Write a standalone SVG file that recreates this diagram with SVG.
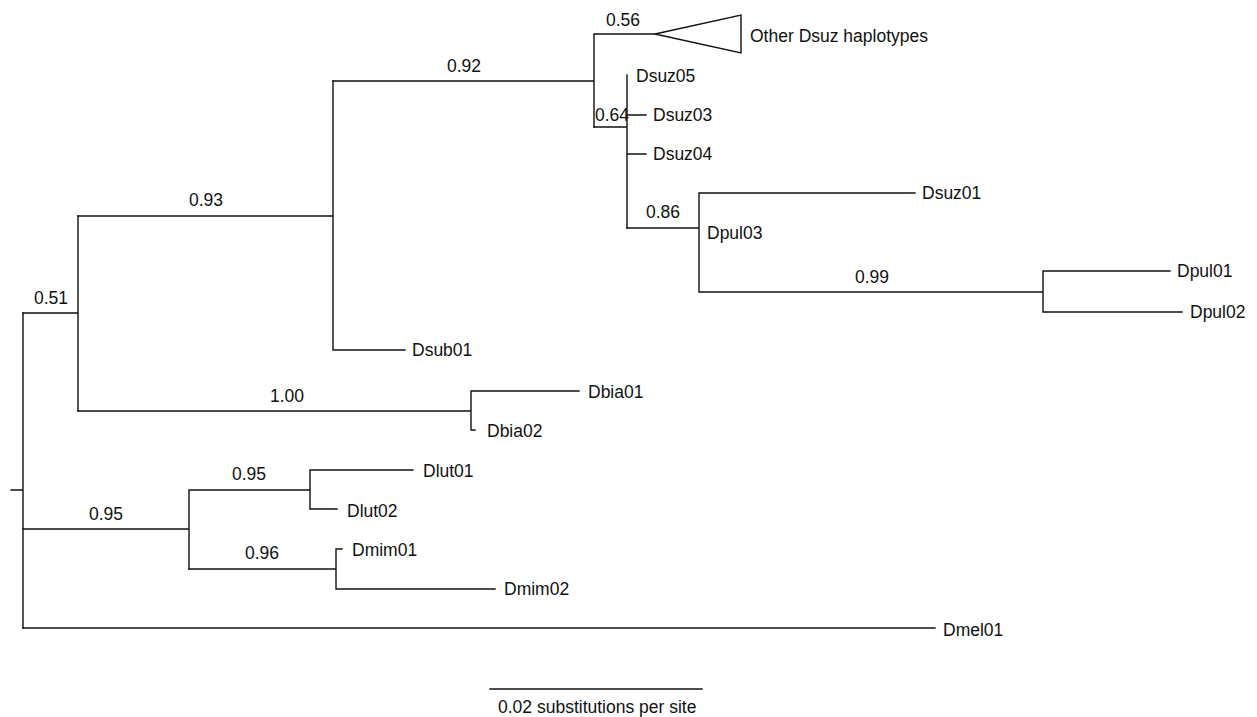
<svg xmlns="http://www.w3.org/2000/svg" width="1257" height="717" viewBox="0 0 1257 717">
<style>
.b{fill:none;stroke:#111;stroke-width:1.4;stroke-linecap:square}
text{font-family:"Liberation Sans",Arial,sans-serif;font-size:17.5px;fill:#111}
</style>
<rect width="1257" height="717" fill="#fff"/>
<g id="connectors">
<path class="b" d="M11,490H23M23,313V628"/>
<path class="b" d="M23,313H78M78,216V411"/>
<path class="b" d="M78,216H333M333,81V350M333,350H405"/>
<path class="b" d="M333,81H594M594,34V127M594,34H655"/>
<path class="b" d="M594,127H627M627,75V228M627,115H646M627,154H646"/>
<path class="b" d="M627,228H699M699,193V292M699,193H915M699,292H1043M1043,271V312M1043,271H1170M1043,312H1182"/>
<path class="b" d="M78,411H471M471,391V430M471,391H579M471,430H475"/>
<path class="b" d="M23,529H189M189,490V569M189,490H310M310,470V509M310,470H413M310,509H337"/>
<path class="b" d="M189,569H336M336,549V589M336,549H342M336,589H495"/>
<path class="b" d="M23,628H935"/>
</g>
<g id="collapsed-dsuz"><polygon class="b" points="655,34 741,15 741,53"/><text x="750" y="42">Other Dsuz haplotypes</text></g>
<g id="support-labels">
<text x="606" y="26">0.56</text>
<text x="447" y="72">0.92</text>
<text x="595" y="121">0.64</text>
<text x="646" y="218">0.86</text>
<text x="855" y="283">0.99</text>
<text x="189" y="206">0.93</text>
<text x="34" y="304">0.51</text>
<text x="270" y="402">1.00</text>
<text x="232" y="480">0.95</text>
<text x="89" y="520">0.95</text>
<text x="245" y="559">0.96</text>
</g>
<g id="Dsuz05"><text x="636" y="82">Dsuz05</text></g>
<g id="Dsuz03"><text x="653" y="121">Dsuz03</text></g>
<g id="Dsuz04"><text x="653" y="160">Dsuz04</text></g>
<g id="Dpul03"><text x="707" y="239">Dpul03</text></g>
<g id="Dsuz01"><text x="922" y="199">Dsuz01</text></g>
<g id="Dpul01"><text x="1177" y="277">Dpul01</text></g>
<g id="Dpul02"><text x="1190" y="318">Dpul02</text></g>
<g id="Dsub01"><text x="412" y="356">Dsub01</text></g>
<g id="Dbia01"><text x="588" y="398">Dbia01</text></g>
<g id="Dbia02"><text x="487" y="437">Dbia02</text></g>
<g id="Dlut01"><text x="423" y="477">Dlut01</text></g>
<g id="Dlut02"><text x="347" y="517">Dlut02</text></g>
<g id="Dmim01"><text x="352" y="556">Dmim01</text></g>
<g id="Dmim02"><text x="504" y="595">Dmim02</text></g>
<g id="Dmel01"><text x="943" y="636">Dmel01</text></g>
<g id="scale-bar"><path class="b" d="M490,689H702"/><text x="498" y="713">0.02 substitutions per site</text></g>
</svg>
